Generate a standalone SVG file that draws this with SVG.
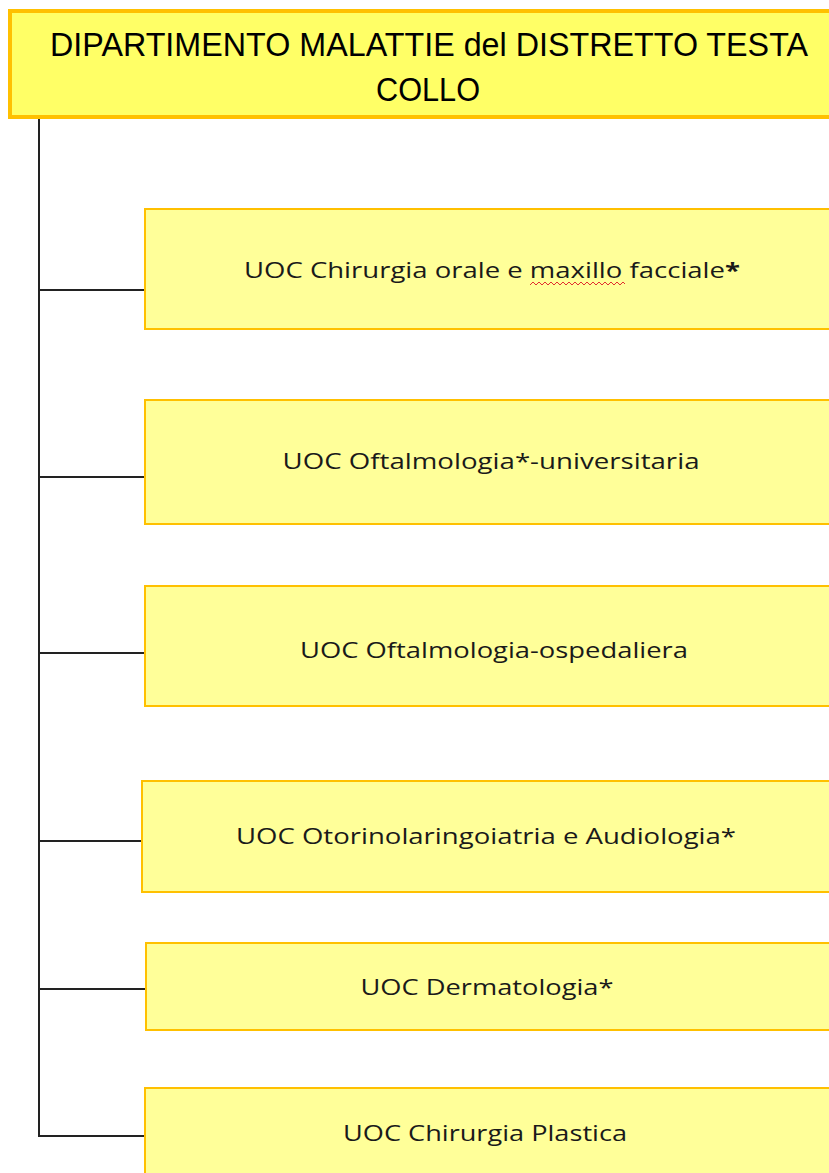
<svg xmlns="http://www.w3.org/2000/svg" width="829" height="1173" viewBox="0 0 829 1173">
<style>
.hdr{fill:#FFFF66;stroke:#FFC000;stroke-width:4}
.box{fill:#FFFF99;stroke:#FFC000;stroke-width:2}
.ht{font-family:"Liberation Sans",Arial,sans-serif;font-size:33px;fill:#000;text-anchor:middle}
.bt{font-family:"Open Sans","DejaVu Sans",sans-serif;font-size:22px;fill:#1a1a1a;text-anchor:middle}
.ln{stroke:#222;stroke-width:2;fill:none}
</style>
<rect width="829" height="1173" fill="#fff"/>
<g id="connectors">
<path class="ln" d="M39 118 V1136 H145"/>
<path class="ln" d="M39 290 H145"/>
<path class="ln" d="M39 477 H145"/>
<path class="ln" d="M39 653 H145"/>
<path class="ln" d="M39 841 H142"/>
<path class="ln" d="M39 989 H146"/>
</g>
<g id="header">
<rect class="hdr" x="10" y="11" width="830" height="106"/>
<text class="ht" x="429" y="56" textLength="758" lengthAdjust="spacingAndGlyphs">DIPARTIMENTO MALATTIE del DISTRETTO TESTA</text>
<text class="ht" x="428" y="101" textLength="104" lengthAdjust="spacingAndGlyphs">COLLO</text>
</g>
<g id="n1">
<rect class="box" x="145" y="209" width="690" height="120"/>
<text class="bt" x="492" y="278" textLength="496" lengthAdjust="spacingAndGlyphs">UOC Chirurgia orale e maxillo facciale<tspan font-weight="bold">*</tspan></text>
<polyline points="530,285 533,282 536,285 539,282 542,285 545,282 548,285 551,282 554,285 557,282 560,285 563,282 566,285 569,282 572,285 575,282 578,285 581,282 584,285 587,282 590,285 593,282 596,285 599,282 602,285 605,282 608,285 611,282 614,285 617,282 620,285 623,282 625,284" fill="none" stroke="#e03030" stroke-width="1"/>
</g>
<g id="n2">
<rect class="box" x="145" y="400" width="690" height="124"/>
<text class="bt" x="491" y="469" textLength="417" lengthAdjust="spacingAndGlyphs">UOC Oftalmologia*-universitaria</text>
</g>
<g id="n3">
<rect class="box" x="145" y="586" width="690" height="120"/>
<text class="bt" x="494" y="658" textLength="388" lengthAdjust="spacingAndGlyphs">UOC Oftalmologia-ospedaliera</text>
</g>
<g id="n4">
<rect class="box" x="142" y="781" width="693" height="111"/>
<text class="bt" x="486" y="844" textLength="500" lengthAdjust="spacingAndGlyphs">UOC Otorinolaringoiatria e Audiologia*</text>
</g>
<g id="n5">
<rect class="box" x="146" y="943" width="689" height="87"/>
<text class="bt" x="487" y="995" textLength="253" lengthAdjust="spacingAndGlyphs">UOC Dermatologia*</text>
</g>
<g id="n6">
<rect class="box" x="145" y="1088" width="690" height="95"/>
<text class="bt" x="485" y="1141" textLength="284" lengthAdjust="spacingAndGlyphs">UOC Chirurgia Plastica</text>
</g>
</svg>
